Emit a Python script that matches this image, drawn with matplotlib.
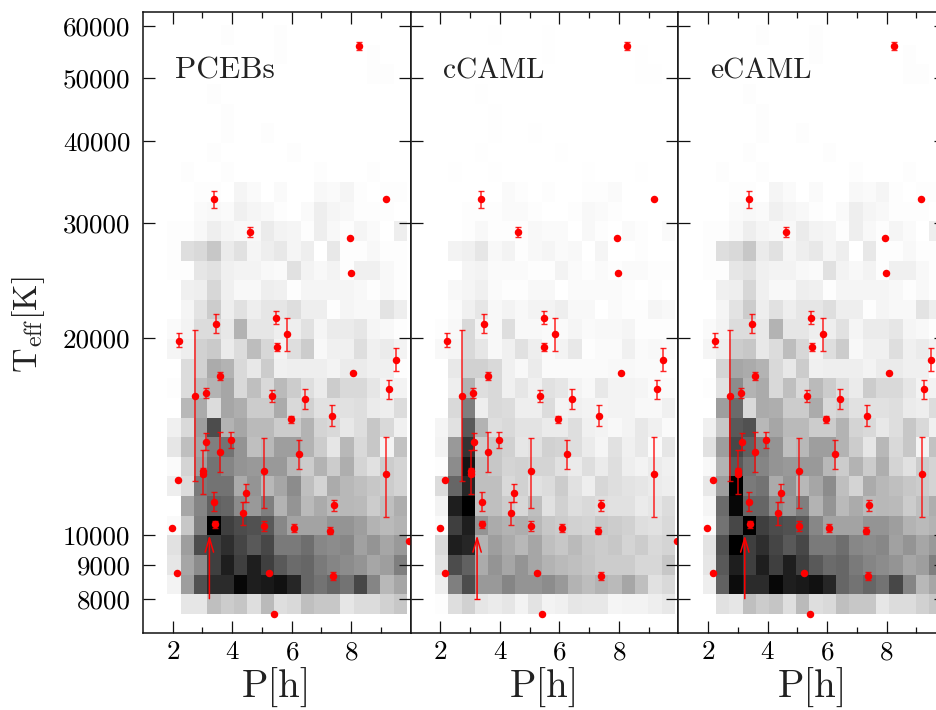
import numpy as np
import matplotlib
matplotlib.use("Agg")
import matplotlib.pyplot as plt
from matplotlib.ticker import NullLocator

plt.rcParams["font.family"] = ["cmr10", "DejaVu Serif"]
plt.rcParams["mathtext.fontset"] = "cm"
plt.rcParams["axes.formatter.use_mathtext"] = True

# grey level of each bin, 0 = white, 100 = black, bottom row first
pcebs_rows = [
    [0, 10, 10, 25, 20, 23, 13, 27, 13, 15, 25, 22, 22, 10, 14, 14, 18, 22],
    [5, 38, 68, 83, 83, 97, 88, 90, 93, 85, 60, 55, 60, 55, 72, 48, 28, 35],
    [10, 35, 45, 75, 88, 75, 88, 75, 65, 58, 60, 52, 48, 45, 42, 35, 38, 50],
    [12, 38, 70, 75, 82, 73, 65, 72, 52, 52, 57, 47, 45, 47, 37, 42, 35, 40],
    [2, 22, 50, 100, 75, 70, 68, 65, 47, 36, 36, 36, 42, 42, 38, 30, 27, 30],
    [0, 35, 48, 62, 60, 45, 40, 50, 30, 42, 27, 33, 27, 28, 27, 20, 25, 32],
    [7, 14, 52, 55, 55, 33, 42, 28, 35, 45, 25, 17, 33, 28, 25, 22, 20, 17],
    [2, 17, 38, 55, 48, 42, 40, 40, 40, 28, 20, 30, 20, 32, 17, 12, 20, 17],
    [10, 25, 35, 50, 55, 42, 25, 28, 38, 38, 30, 20, 10, 28, 15, 22, 5, 24],
    [6, 15, 38, 70, 30, 35, 27, 27, 20, 20, 30, 17, 15, 9, 13, 22, 15, 6],
    [0, 28, 33, 14, 35, 32, 20, 20, 33, 15, 18, 12, 12, 12, 13, 8, 7, 14],
    [1, 14, 25, 30, 35, 15, 25, 15, 27, 20, 13, 8, 20, 15, 15, 10, 5, 5],
    [0, 14, 18, 33, 30, 15, 9, 20, 6, 7, 7, 7, 5, 8, 8, 6, 6, 1],
    [4, 7, 18, 21, 8, 14, 26, 16, 5, 13, 20, 3, 6, 6, 13, 6, 8, 5],
    [2, 5, 14, 14, 9, 30, 10, 10, 7, 7, 12, 4, 8, 8, 10, 4, 3, 1],
    [0, 4, 11, 20, 7, 12, 7, 10, 10, 13, 7, 7, 1, 4, 3, 3, 11, 7],
    [0, 6, 7, 16, 6, 3, 3, 7, 6, 1, 4, 4, 4, 4, 3, 1, 3, 1],
    [1, 1, 10, 12, 6, 5, 5, 3, 2, 12, 5, 3, 5, 1, 6, 6, 3, 1],
    [1, 13, 15, 22, 8, 12, 4, 7, 9, 4, 7, 0, 9, 1, 1, 3, 1, 1],
    [1, 1, 3, 7, 4, 3, 3, 8, 5, 4, 1, 7, 3, 1, 4, 2, 0, 7],
    [0, 0, 2, 3, 2, 6, 4, 3, 1, 0, 2, 7, 4, 3, 1, 1, 1, 0],
    [0, 0, 1, 1, 0, 4, 2, 0, 2, 0, 0, 3, 2, 4, 1, 0, 1, 1],
    [0, 1, 0, 0, 1, 0, 0, 0, 0, 0, 0, 1, 0, 0, 0, 1, 0, 0],
    [0, 0, 0, 1, 0, 0, 0, 0, 0, 1, 0, 0, 0, 0, 0, 0, 0, 0],
    [0, 0, 0, 0, 1, 0, 0, 1, 0, 0, 0, 0, 0, 0, 0, 0, 0, 0],
    [0, 0, 0, 0, 1, 0, 0, 0, 0, 0, 0, 0, 0, 0, 0, 0, 0, 0],
    [0, 0, 0, 1, 0, 0, 0, 0, 0, 0, 0, 0, 0, 0, 0, 0, 0, 0],
    [0, 0, 0, 0, 0, 0, 0, 0, 0, 0, 0, 0, 0, 0, 0, 1, 1, 0],
    [0, 0, 0, 0, 0, 0, 0, 0, 1, 0, 0, 0, 0, 0, 0, 1, 0, 0],
    [0, 0, 0, 0, 1, 0, 0, 0, 1, 0, 0, 0, 0, 0, 0, 0, 0, 0],
]

ccaml_rows = [
    [1, 13, 18, 10, 8, 10, 5, 11, 5, 6, 10, 9, 9, 4, 5, 5, 7, 9],
    [7, 50, 70, 40, 40, 48, 42, 42, 45, 40, 30, 26, 30, 27, 35, 25, 12, 15],
    [12, 70, 62, 33, 42, 35, 42, 35, 30, 27, 25, 23, 20, 20, 20, 16, 16, 22],
    [15, 88, 85, 30, 38, 33, 28, 35, 25, 22, 27, 22, 20, 22, 17, 20, 15, 17],
    [2, 75, 88, 42, 33, 30, 32, 28, 22, 20, 18, 17, 22, 20, 18, 13, 12, 15],
    [5, 88, 100, 25, 25, 20, 16, 25, 12, 18, 13, 15, 13, 12, 12, 8, 10, 14],
    [14, 60, 85, 25, 25, 15, 18, 12, 14, 20, 12, 7, 16, 13, 11, 10, 8, 7],
    [1, 45, 92, 25, 22, 17, 18, 17, 17, 12, 8, 13, 8, 13, 7, 5, 8, 6],
    [5, 40, 80, 20, 22, 18, 10, 12, 18, 17, 13, 8, 4, 12, 6, 9, 2, 10],
    [4, 12, 65, 30, 13, 15, 11, 11, 8, 8, 13, 6, 5, 3, 5, 9, 6, 2],
    [0, 15, 50, 7, 15, 14, 7, 7, 14, 5, 6, 5, 4, 5, 5, 3, 3, 6],
    [0, 7, 30, 13, 15, 6, 10, 6, 12, 10, 5, 3, 9, 5, 5, 4, 2, 2],
    [0, 9, 18, 18, 15, 6, 3, 8, 2, 2, 2, 2, 2, 3, 3, 2, 2, 1],
    [3, 4, 15, 10, 3, 6, 12, 7, 2, 5, 9, 1, 2, 2, 6, 2, 3, 2],
    [1, 3, 15, 5, 3, 13, 3, 3, 2, 2, 4, 2, 3, 3, 4, 1, 1, 1],
    [0, 2, 6, 10, 3, 5, 3, 5, 5, 7, 3, 3, 0, 2, 1, 1, 4, 3],
    [0, 3, 4, 6, 2, 1, 1, 3, 3, 0, 2, 2, 2, 2, 1, 0, 1, 0],
    [0, 0, 4, 5, 2, 2, 2, 1, 1, 5, 2, 1, 2, 1, 2, 2, 1, 1],
    [0, 5, 6, 10, 3, 5, 1, 3, 4, 2, 3, 0, 4, 0, 0, 1, 0, 0],
    [0, 0, 1, 3, 1, 1, 1, 3, 2, 2, 0, 3, 1, 0, 2, 1, 0, 2],
    [0, 0, 1, 1, 1, 2, 2, 1, 0, 0, 1, 3, 2, 1, 0, 0, 0, 0],
    [0, 0, 0, 0, 0, 2, 1, 0, 1, 0, 0, 1, 1, 2, 0, 0, 0, 0],
    [0, 0.5, 0, 0, 0.5, 0, 0, 0, 0, 0, 0, 0.5, 0, 0, 0, 0.5, 0, 0],
    [0, 0, 0, 0.5, 0, 0, 0, 0, 0, 0.5, 0, 0, 0, 0, 0, 0, 0, 0],
    [0, 0, 0, 0, 0.5, 0, 0, 0.5, 0, 0, 0, 0, 0, 0, 0, 0, 0, 0],
    [0, 0, 0, 0, 0.5, 0, 0, 0, 0, 0, 0, 0, 0, 0, 0, 0, 0, 0],
    [0, 0, 0, 0.5, 0, 0, 0, 0, 0, 0, 0, 0, 0, 0, 0, 0, 0, 0],
    [0, 0, 0, 0, 0, 0, 0, 0, 0, 0, 0, 0, 0, 0, 0, 0.5, 0.5, 0],
    [0, 0, 0, 0, 0, 0, 0, 0, 0.5, 0, 0, 0, 0, 0, 0, 0.5, 0, 0],
    [0, 0, 0, 0, 0.5, 0, 0, 0, 0.5, 0, 0, 0, 0, 0, 0, 0, 0, 0],
]

# eCAML only differs from PCEBs in the short period columns of the lower rows
ecaml_left = [
    [0, 12, 10, 25, 20],
    [7, 62, 95, 83, 83],
    [10, 65, 88, 75, 88],
    [11, 68, 100, 75, 82],
    [2, 55, 72, 100, 75],
    [4, 58, 97, 60, 60],
    [9, 38, 100, 52, 55],
    [3, 30, 65, 55, 48],
    [12, 38, 72, 62, 50],
    [6, 22, 65, 68, 28],
    [0, 38, 58, 15, 33],
    [1, 12, 45, 30, 33],
    [0, 17, 35, 33, 30],
    [4, 7, 20, 22, 9],
]

# observed systems: period, Teff, lower and upper error bar ends
period = [2.224, 3.467, 5.471, 5.852, 5.493, 9.491, 8.069, 3.590, 9.267, 3.108,
          2.739, 5.336, 6.434, 7.341, 5.963, 3.959, 3.131, 3.590, 6.255, 5.056,
          9.177, 3.019, 3.019, 2.168, 4.463, 3.388, 7.408, 4.362, 3.411, 1.977,
          5.056, 6.076, 7.296, 9.939, 2.157, 5.236, 7.386, 5.415, 8.259, 3.377,
          9.166, 4.609, 7.945, 7.979]
teff = [19850, 21050, 21520, 20320, 19410, 18540, 17710, 17510, 16730, 16530,
        16340, 16340, 16160, 15240, 15070, 13980, 13890, 13430, 13300, 12530,
        12400, 12520, 12410, 12150, 11600, 11260, 11130, 10800, 10390, 10260,
        10320, 10260, 10160, 9790, 8770, 8770, 8670, 7570, 56020, 32610,
        32610, 29070, 28430, 25160]
teff_lo = [19390, 20350, 21070, 19160, 19120, 17820, 17710, 17280, 16160, 16240,
           12100, 16010, 15590, 14680, 14870, 13600, 13480, 12500, 12620, 11000,
           10670, 12330, 11560, 12150, 11230, 10880, 10910, 10360, 10250, 10260,
           10140, 10120, 10030, 9790, 8770, 8770, 8530, 7570, 55230, 31630,
           32610, 28560, 28430, 25160]
teff_hi = [20370, 21780, 22010, 21520, 19710, 19300, 17710, 17760, 17260, 16820,
           20590, 16670, 16730, 15810, 15240, 14380, 14320, 14380, 13990, 14070,
           14120, 12690, 13520, 12150, 11960, 11640, 11340, 11230, 10510, 10260,
           10510, 10410, 10280, 9790, 8770, 8770, 8800, 7570, 56740, 33580,
           32610, 29590, 28430, 25160]

# the one system that only has a limit
limit_period = 3.232
limit_from = 8000
limit_to = 10000

panel_names = ["PCEBs", "cCAML", "eCAML"]
name_sizes = [22.6, 21.2, 21.2]
x_major = [2, 4, 6, 8]
x_minor = [3, 5, 7, 9]
y_ticks = [8000, 9000, 10000, 20000, 30000, 40000, 50000, 60000]

pcebs = np.array(pcebs_rows, dtype=float)
ccaml = np.array(ccaml_rows, dtype=float)
ecaml = pcebs.copy()
ecaml[:14, :5] = np.array(ecaml_left)
panels = [pcebs, ccaml, ecaml]

x_edges = np.linspace(1.815, 9.88, 19)
y_edges = 10 ** np.linspace(3.88, 4.78, 31)

w, h = 936, 710
fig = plt.figure(figsize=(w / 100, h / 100), dpi=100)
lefts = [143, 410.7, 678.4]

for i, left in enumerate(lefts):
    ax = fig.add_axes([left / w, (h - 633.4) / h, 267.7 / w, 621.4 / h])
    ax.pcolormesh(x_edges, y_edges, panels[i], cmap="gray_r", vmin=0, vmax=100)
    ax.set_xlim(1, 10)
    ax.set_yscale("log")
    ax.set_ylim(10 ** 3.85, 10 ** 4.8)

    lo = np.array(teff) - np.array(teff_lo)
    hi = np.array(teff_hi) - np.array(teff)
    eb = ax.errorbar(period, teff, yerr=[lo, hi], fmt="none", ecolor="#ff0000",
                     elinewidth=1.1, capsize=2.2, capthick=1.0, alpha=0.85, zorder=5)
    for part in eb.lines[1] + eb.lines[2]:
        part.set_clip_on(False)
    ax.plot(period, teff, "o", color="#ff0000", ms=5.4, mew=0, zorder=6, clip_on=False)

    ax.annotate("", xy=(limit_period, limit_to), xytext=(limit_period, limit_from),
                arrowprops=dict(arrowstyle="->,head_length=0.85,head_width=0.25",
                                color="#ff0000", lw=1.1, shrinkA=0, shrinkB=0,
                                mutation_scale=12), zorder=5)
    if i == 1:
        ax.plot([limit_period], [limit_from], "_", color="#ff0000", ms=5, mew=1, zorder=5)

    ax.set_xticks(x_major)
    ax.set_xticks(x_minor, minor=True)
    ax.set_yticks(y_ticks)
    ax.yaxis.set_minor_locator(NullLocator())
    ax.tick_params(axis="both", which="major", direction="in", length=8.5, width=0.9,
                   top=True, right=True, labelsize=19.5, color="#111111")
    ax.tick_params(axis="x", which="minor", direction="in", length=4.5, width=0.9,
                   top=True, color="#111111")
    ax.tick_params(axis="x", which="major", pad=5)
    ax.tick_params(axis="y", which="major", pad=9)
    if i == 0:
        ax.set_yticklabels([str(v) for v in y_ticks])
    else:
        ax.set_yticklabels([])
    for side in ax.spines.values():
        side.set_linewidth(1.1)
        side.set_color("#111111")

    ax.text(2.07, 50000, panel_names[i], fontsize=name_sizes[i], color="#222222",
            va="baseline")
    ax.set_xlabel("P[h]", fontsize=28, labelpad=3, color="#222222")
    if i == 0:
        ax.set_ylabel(r"$\mathrm{T}_{\mathrm{eff}}[\mathrm{K}]$", fontsize=24.5,
                      color="#222222")
        ax.yaxis.set_label_coords(-0.357, 0.496)

fig.savefig("out.png", dpi=100)
